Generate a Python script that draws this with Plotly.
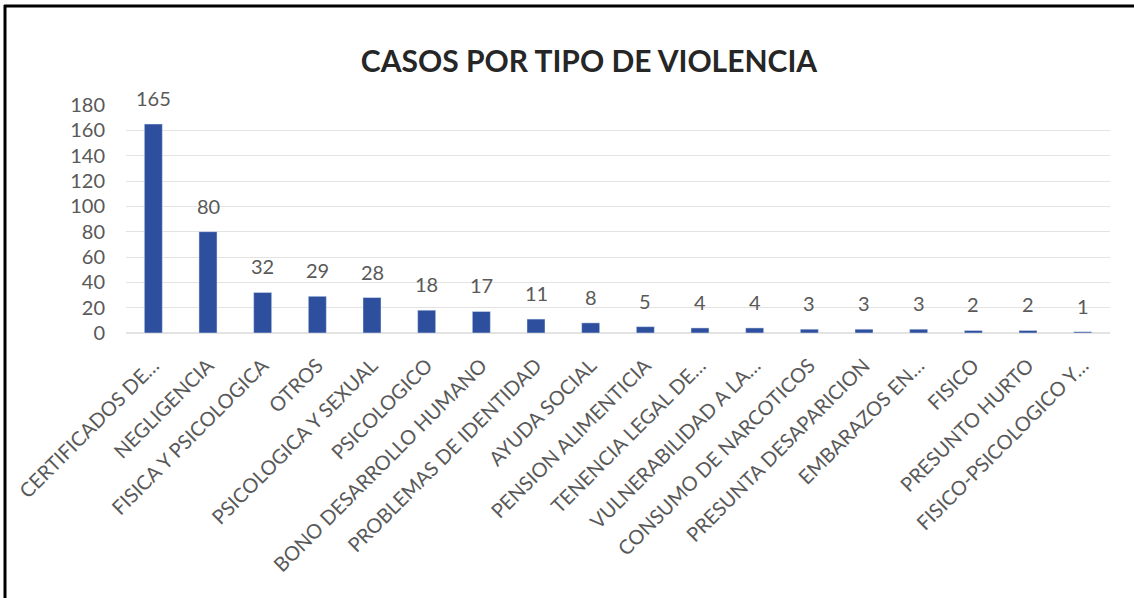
import plotly.graph_objects as go

categories = [
    "CERTIFICADOS DE…", "NEGLIGENCIA", "FISICA Y PSICOLOGICA", "OTROS",
    "PSICOLOGICA Y SEXUAL", "PSICOLOGICO", "BONO DESARROLLO HUMANO",
    "PROBLEMAS DE IDENTIDAD", "AYUDA SOCIAL", "PENSION ALIMENTICIA",
    "TENENCIA LEGAL DE…", "VULNERABILIDAD A LA…", "CONSUMO DE NARCOTICOS",
    "PRESUNTA DESAPARICION", "EMBARAZOS EN…", "FISICO", "PRESUNTO HURTO",
    "FISICO-PSICOLOGICO Y…",
]
values = [165, 80, 32, 29, 28, 18, 17, 11, 8, 5, 4, 4, 3, 3, 3, 2, 2, 1]
y_ticks = [0, 20, 40, 60, 80, 100, 120, 140, 160, 180]
title = "CASOS POR TIPO DE VIOLENCIA"

W, H = 1134, 598
ML, MR, MT, MB = 126, 24, 105, 265
pw, ph = W - ML - MR, H - MT - MB

gray = "#595959"
font = "Lato"

fig = go.Figure()
fig.add_trace(go.Bar(x=categories, y=values, marker_color="#2d4f9e", width=0.33))

annotations = [
    dict(x=c, y=v, text=str(v), showarrow=False, xref="x", yref="y",
         yanchor="middle", yshift=26, font=dict(family=font, size=20, color=gray))
    for c, v in zip(categories, values)
]

def px_x(p):
    return (p - ML) / pw

def px_y(p):
    return 1 - (p - MT) / ph

shapes = [
    dict(type="line", xref="paper", yref="paper", x0=px_x(4), x1=px_x(W), y0=px_y(6), y1=px_y(6),
         line=dict(color="black", width=3)),
    dict(type="line", xref="paper", yref="paper", x0=px_x(5), x1=px_x(5), y0=px_y(5), y1=px_y(H),
         line=dict(color="black", width=3)),
]

fig.update_layout(
    width=W, height=H,
    margin=dict(l=ML, r=MR, t=MT, b=MB, autoexpand=False),
    paper_bgcolor="white", plot_bgcolor="white",
    title=dict(text=f"<b>{title}</b>", x=589 / W, xanchor="center", y=1 - 61 / H, yanchor="middle",
               font=dict(family=font, size=30, color="#262626")),
    showlegend=False,
    annotations=annotations,
    shapes=shapes,
    bargap=0.67,
)
fig.update_xaxes(
    tickangle=-45, tickfont=dict(family=font, size=20, color=gray),
    showgrid=False, showline=False, ticks="outside", ticklen=12, tickcolor="rgba(0,0,0,0)",
    automargin=False,
)
fig.update_yaxes(
    range=[0, 180], tickvals=y_ticks, showgrid=True, gridcolor="#e3e3e3", gridwidth=1,
    zeroline=True, zerolinecolor="#e3e3e3", showline=False, ticks="",
    tickfont=dict(family=font, size=20, color=gray), ticklabelstandoff=20, automargin=False,
)

fig.write_html(
    "out.html",
    config={"displayModeBar": False},
    post_script="document.body.style.margin='0';document.body.style.overflow='hidden';",
)
